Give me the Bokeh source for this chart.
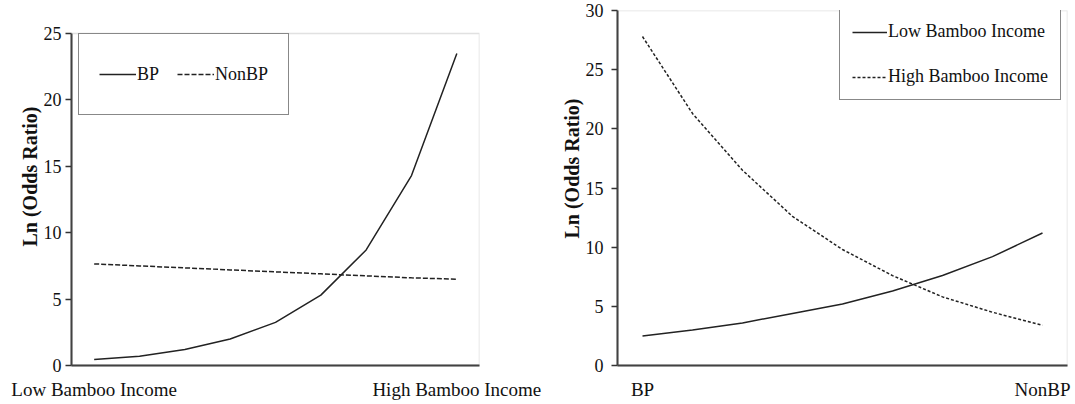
from bokeh.plotting import figure
from bokeh.models import Range1d, FixedTicker, Legend, LegendItem, Title, BoxAnnotation
from bokeh.layouts import row
from bokeh.embed import file_html
from bokeh.resources import INLINE

# ---- data ----
steps = [1, 2, 3, 4, 5, 6, 7, 8, 9]
left_bp = [0.45, 0.7, 1.2, 2.0, 3.25, 5.3, 8.7, 14.3, 23.5]
left_nonbp = [7.65, 7.5, 7.35, 7.2, 7.05, 6.9, 6.75, 6.6, 6.5]
left_x_labels = {1: "Low Bamboo Income", 9: "High Bamboo Income"}
left_y_ticks = [0, 5, 10, 15, 20, 25]
left_y_max = 25

right_low = [2.5, 3.0, 3.6, 4.4, 5.2, 6.3, 7.6, 9.2, 11.2]
right_high = [27.8, 21.3, 16.5, 12.6, 9.8, 7.6, 5.8, 4.5, 3.4]
right_x_labels = {1: "BP", 9: "NonBP"}
right_y_ticks = [0, 5, 10, 15, 20, 25, 30]
right_y_max = 30

y_title = "Ln (Odds Ratio)"

FONT = "Liberation Serif"
INK = "#222222"
FRAME = "#9a9a9a"


def style(p, yticks, xlabels, ystandoff, ymax):
    p.xgrid.visible = False
    p.ygrid.visible = False
    p.outline_line_color = None
    p.background_fill_color = "white"
    p.border_fill_color = "white"
    # plot-area box (top/right edges light grey), limited to the value range
    p.add_layout(BoxAnnotation(left=0.5, right=9.5, bottom=0, top=ymax,
                               fill_alpha=0, line_color=FRAME, line_width=1.5))

    ya = p.yaxis[0]
    ya.ticker = FixedTicker(ticks=yticks)
    ya.bounds = (0, ymax)
    ya.minor_tick_line_color = None
    ya.major_tick_out = 6
    ya.major_tick_in = 0
    ya.major_tick_line_color = "#333333"
    ya.major_tick_line_width = 1.5
    ya.axis_line_color = "#333333"
    ya.axis_line_width = 2
    ya.major_label_standoff = ystandoff
    ya.major_label_text_font = FONT
    ya.major_label_text_font_size = "18px"
    ya.major_label_text_color = "#111111"

    xa = p.xaxis[0]
    xa.ticker = FixedTicker(ticks=list(xlabels.keys()))
    xa.major_label_overrides = xlabels
    xa.minor_tick_line_color = None
    xa.major_tick_line_color = None
    xa.major_tick_out = 0
    xa.major_tick_in = 0
    xa.axis_line_color = "#333333"
    xa.axis_line_width = 2
    xa.major_label_standoff = 13
    xa.major_label_text_font = FONT
    xa.major_label_text_font_size = "19px"
    xa.major_label_text_color = "#111111"


def ytitle(offset):
    return Title(text=y_title, align="left", offset=offset,
                 text_font=FONT, text_font_style="bold", text_font_size="20px",
                 text_color="#111111", standoff=0)


# ---- left chart ----
# frame spans 10..365 px; the 0..25 value box occupies 33..365 of it
p1 = figure(width=545, height=404, x_range=Range1d(0.5, 9.5), y_range=Range1d(0, 26.73),
            output_backend="svg", toolbar_location=None, title=None,
            min_border_left=71, min_border_right=66, min_border_top=10, min_border_bottom=39)
style(p1, left_y_ticks, left_x_labels, 4, left_y_max)
r_bp = p1.line(steps, left_bp, line_color=INK, line_width=1.5)
r_nonbp = p1.line(steps, left_nonbp, line_color=INK, line_width=1.5, line_dash="5 2")
leg1 = Legend(items=[LegendItem(label="BP", renderers=[r_bp]),
                     LegendItem(label="NonBP", renderers=[r_nonbp])],
              orientation="horizontal", location=(7, 250),
              padding=20, spacing=18, margin=0,
              label_height=40, glyph_height=40, glyph_width=37, label_standoff=1,
              label_text_font=FONT, label_text_font_size="18px", label_text_color="#111111",
              border_line_color="#111111", border_line_width=1.5,
              background_fill_color="white", background_fill_alpha=1.0)
p1.add_layout(leg1, "center")
p1.add_layout(ytitle(119), "left")

# ---- right chart ----
p2 = figure(width=530, height=404, x_range=Range1d(0.5, 9.5), y_range=Range1d(0, 30),
            output_backend="svg", toolbar_location=None, title=None,
            min_border_left=72, min_border_right=8, min_border_top=10, min_border_bottom=39)
style(p2, right_y_ticks, right_x_labels, 8, right_y_max)
r_low = p2.line(steps, right_low, line_color=INK, line_width=1.5)
r_high = p2.line(steps, right_high, line_color=INK, line_width=1.5, line_dash="3 2")
leg2 = Legend(items=[LegendItem(label="Low Bamboo Income", renderers=[r_low]),
                     LegendItem(label="High Bamboo Income", renderers=[r_high])],
              orientation="vertical", location=(222, 265),
              padding=12, spacing=24, margin=0,
              label_height=20, glyph_height=20, glyph_width=35, label_standoff=1,
              label_text_font=FONT, label_text_font_size="18px", label_text_color="#111111",
              border_line_color="#111111", border_line_width=1.5,
              background_fill_color="white", background_fill_alpha=1.0)
p2.add_layout(leg2, "center")
p2.add_layout(ytitle(127), "left")

layout = row(p1, p2)
open("out.html", "w").write(file_html(layout, INLINE))
